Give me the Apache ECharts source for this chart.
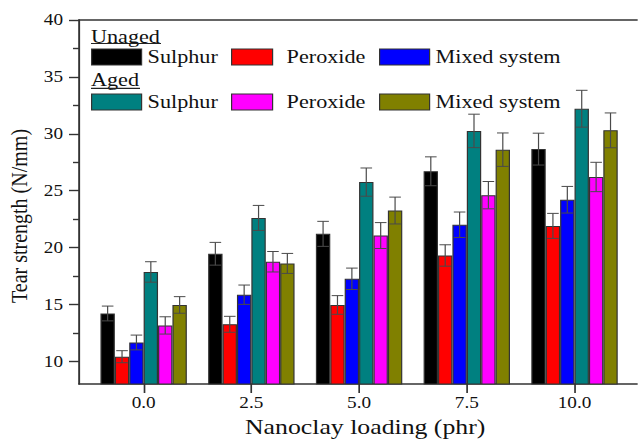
<!DOCTYPE html>
<html>
<head>
<meta charset="utf-8">
<script src="https://cdn.jsdelivr.net/npm/echarts@6/dist/echarts.min.js"></script>
<style>
  html, body { margin: 0; padding: 0; background: #fff; overflow: hidden; }
  /* the figure is laid out in a narrower box and stretched horizontally */
  #chart { width: 532px; height: 439px; transform: scaleX(1.19925); transform-origin: 0 0; }
</style>
</head>
<body>
<div id="chart"></div>
<script>
// ---- data ----
const loadings = [0, 2.5, 5, 7.5, 10];
const loadingLabels = ['0.0', '2.5', '5.0', '7.5', '10.0'];
const yTicks = [10, 15, 20, 25, 30, 35, 40];
const yMinorTicks = [12.5, 17.5, 22.5, 27.5, 32.5, 37.5];

const seriesNames = ['Unaged Sulphur', 'Unaged Peroxide', 'Unaged Mixed system',
                     'Aged Sulphur', 'Aged Peroxide', 'Aged Mixed system'];

const unagedSulphur  = [14.2, 19.45, 21.2, 26.7, 28.65];
const unagedPeroxide = [10.4, 13.25, 14.95, 19.3, 21.9];
const unagedMixed    = [11.65, 15.85, 17.25, 22.0, 24.2];
const agedSulphur    = [17.85, 22.6, 25.75, 30.25, 32.2];
const agedPeroxide   = [13.15, 18.75, 21.05, 24.6, 26.2];
const agedMixed      = [14.95, 18.6, 23.25, 28.6, 30.3];

const unagedSulphurErr  = [0.65, 1.0, 1.1, 1.27, 1.4];
const unagedPeroxideErr = [0.53, 0.7, 0.82, 0.94, 1.1];
const unagedMixedErr    = [0.65, 0.85, 0.94, 1.12, 1.17];
const agedSulphurErr    = [0.9, 1.1, 1.24, 1.47, 1.62];
const agedPeroxideErr   = [0.76, 0.9, 1.14, 1.2, 1.29];
const agedMixedErr      = [0.73, 0.88, 1.18, 1.47, 1.53];

// ---- styling / layout ----
const STRETCH = 638 / 532;
const sx = v => v / STRETCH;             // page x -> chart x
const FONT = 'Liberation Serif';
const AXIS_COLOR = '#333';
const seriesColors = ['#000000', '#ff0000', '#0000ff', '#008080', '#ff00ff', '#808000'];
const BAR_W = sx(14.4);
const CAP_HALF = sx(5.8);

const values = [unagedSulphur, unagedPeroxide, unagedMixed, agedSulphur, agedPeroxide, agedMixed];
const errors = [unagedSulphurErr, unagedPeroxideErr, unagedMixedErr, agedSulphurErr, agedPeroxideErr, agedMixedErr];

const shortName = n => n.replace(/^(Unaged|Aged) /, '');

function errorBarRenderer(offset) {
  return function (params, api) {
    const x = api.value(0), v = api.value(1), e = api.value(2);
    const hi = api.coord([x, v + e]);
    const lo = api.coord([x, v - e]);
    const cx = hi[0] + offset;
    const style = { stroke: '#4a4a4a', lineWidth: 1 };
    return {
      type: 'group',
      children: [
        { type: 'line', shape: { x1: cx, y1: hi[1], x2: cx, y2: lo[1] }, style },
        { type: 'line', shape: { x1: cx - CAP_HALF, y1: hi[1], x2: cx + CAP_HALF, y2: hi[1] }, style },
        { type: 'line', shape: { x1: cx - CAP_HALF, y1: lo[1], x2: cx + CAP_HALF, y2: lo[1] }, style }
      ]
    };
  };
}

const barSeries = seriesNames.map((name, i) => ({
  name,
  type: 'bar',
  barWidth: BAR_W,
  barGap: '0%',
  data: loadings.map((x, j) => [x, values[i][j]]),
  itemStyle: { color: seriesColors[i], borderColor: '#333', borderWidth: 1 },
  z: 2
}));

const errorSeries = seriesNames.map((name, i) => ({
  name: name + ' error',
  type: 'custom',
  renderItem: errorBarRenderer((i - 2.5) * BAR_W),
  encode: { x: 0, y: 1 },
  data: loadings.map((x, j) => [x, values[i][j], errors[i][j]]),
  z: 5,
  silent: true
}));

// legend entries: page x of swatch, swatch width, extra space before the text, row
const legendSlots = [
  { left: 91, w: 50, pad: 0, row: 0 }, { left: 231, w: 41, pad: 8, row: 0 }, { left: 379, w: 50, pad: 0, row: 0 },
  { left: 91, w: 50, pad: 0, row: 1 }, { left: 231, w: 41, pad: 8, row: 1 }, { left: 379, w: 50, pad: 0, row: 1 }
];
const legendRowTop = [47.5, 92.5];

const legends = seriesNames.map((name, i) => ({
  data: [name],
  left: sx(legendSlots[i].left),
  top: legendRowTop[legendSlots[i].row],
  padding: 0,
  itemWidth: sx(legendSlots[i].w),
  itemHeight: 16,
  icon: 'rect',
  selectedMode: false,
  itemStyle: { borderColor: '#333', borderWidth: 1 },
  formatter: shortName,
  textStyle: {
    fontFamily: FONT, fontSize: 18.5, color: '#111',
    padding: [0, 0, 0, sx(legendSlots[i].pad)]
  }
}));

const chart = echarts.init(document.getElementById('chart'), null, { renderer: 'svg' });

chart.setOption({
  animation: false,
  backgroundColor: '#fff',
  grid: {
    left: sx(79), right: sx(1), top: 20, bottom: 55,
    containLabel: false,
    outerBoundsMode: 'none'
  },
  legend: legends,
  xAxis: [{
    type: 'value',
    min: -1.5,
    max: 11.45,
    position: 'bottom',
    axisLine: { show: true, onZero: false, lineStyle: { color: AXIS_COLOR, width: 1.6 } },
    axisTick: { show: true, customValues: loadings, length: 9, lineStyle: { color: AXIS_COLOR, width: 1.4 } },
    axisLabel: {
      customValues: loadings,
      formatter: v => loadingLabels[loadings.indexOf(v)],
      margin: 10.5,
      fontFamily: FONT, fontSize: 16, color: '#111'
    },
    splitLine: { show: false },
    name: 'Nanoclay loading (phr)',
    nameLocation: 'middle',
    nameGap: 32,
    nameTextStyle: { fontFamily: FONT, fontSize: 21.5, color: '#111', padding: [0, 0, 0, 12] }
  }, {
    type: 'value',
    min: -1.5,
    max: 11.45,
    position: 'top',
    axisLine: { show: true, onZero: false, lineStyle: { color: AXIS_COLOR, width: 1.6 } },
    axisTick: { show: false },
    axisLabel: { show: false },
    splitLine: { show: false }
  }],
  yAxis: [{
    type: 'value',
    min: 8,
    max: 40,
    position: 'left',
    axisLine: { show: true, onZero: false, lineStyle: { color: AXIS_COLOR, width: 1.6 } },
    axisTick: { show: true, customValues: yTicks, length: sx(10), lineStyle: { color: AXIS_COLOR, width: 1.4 } },
    axisLabel: { customValues: yTicks, margin: sx(16), fontFamily: FONT, fontSize: 16, color: '#111' },
    splitLine: { show: false },
    name: 'Tear strength (N/mm)',
    nameLocation: 'middle',
    nameGap: 38,
    nameTextStyle: { fontFamily: FONT, fontSize: 20, color: '#111', padding: [0, 28, 0, 0] }
  }, {
    type: 'value',
    min: 8,
    max: 40,
    position: 'left',
    axisLine: { show: false, onZero: false },
    axisTick: { show: true, customValues: yMinorTicks, length: sx(6), lineStyle: { color: AXIS_COLOR, width: 1.4 } },
    axisLabel: { show: false },
    splitLine: { show: false }
  }],
  graphic: [
    { type: 'text', left: sx(91), top: 27, style: { text: 'Unaged', fontFamily: FONT, fontSize: 18.5, fill: '#111' } },
    { type: 'line', shape: { x1: sx(91), y1: 43.5, x2: sx(161), y2: 43.5 }, style: { stroke: '#222', lineWidth: 1.2 } },
    { type: 'text', left: sx(91), top: 70, style: { text: 'Aged', fontFamily: FONT, fontSize: 18.5, fill: '#111' } },
    { type: 'line', shape: { x1: sx(91), y1: 88.3, x2: sx(140), y2: 88.3 }, style: { stroke: '#222', lineWidth: 1.2 } }
  ],
  series: barSeries.concat(errorSeries)
});
</script>
</body>
</html>
